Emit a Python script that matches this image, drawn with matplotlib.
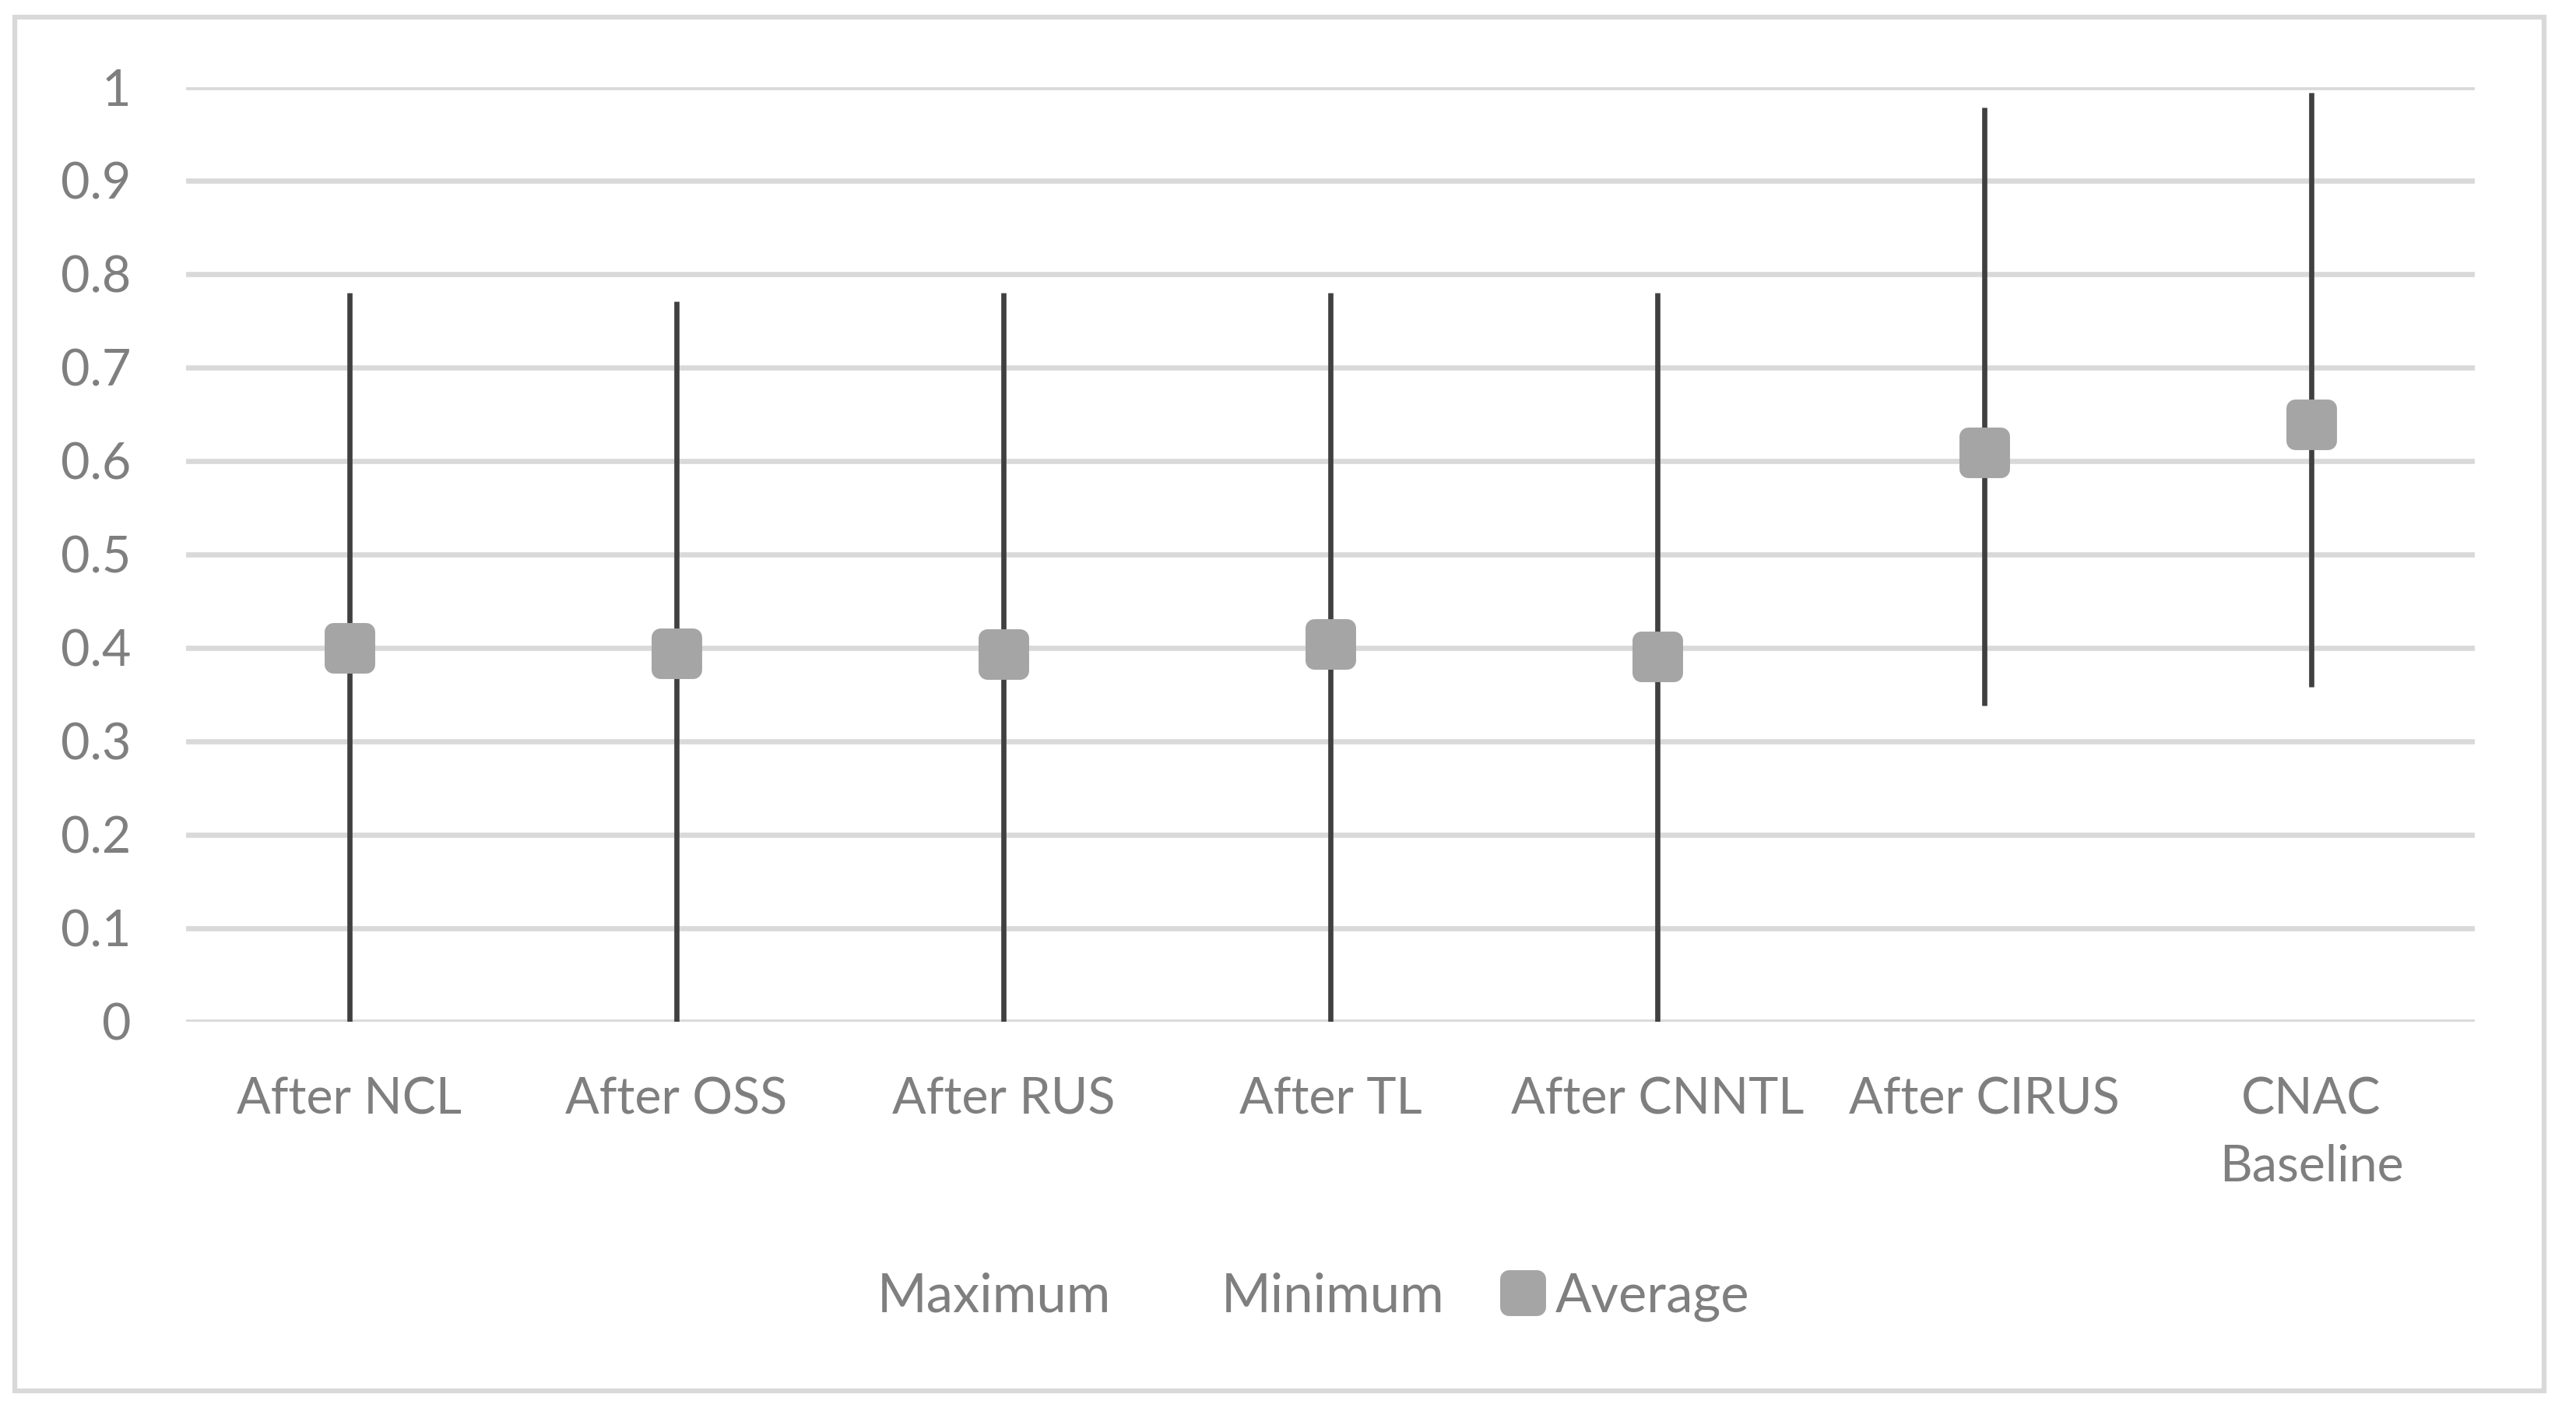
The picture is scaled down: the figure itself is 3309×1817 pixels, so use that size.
import matplotlib
matplotlib.use("Agg")
import matplotlib.pyplot as plt
from matplotlib.markers import MarkerStyle
from matplotlib.patches import Rectangle

# data
categories = ["After NCL", "After OSS", "After RUS", "After TL",
              "After CNNTL", "After CIRUS", "CNAC\nBaseline"]
maximum = [0.78, 0.771, 0.78, 0.78, 0.78, 0.978, 0.994]
minimum = [0.0, 0.0, 0.0, 0.0, 0.0, 0.338, 0.358]
average = [0.400, 0.394, 0.393, 0.404, 0.391, 0.609, 0.639]
yticks = [0, 0.1, 0.2, 0.3, 0.4, 0.5, 0.6, 0.7, 0.8, 0.9, 1]
ytick_labels = ["0", "0.1", "0.2", "0.3", "0.4", "0.5", "0.6", "0.7", "0.8", "0.9", "1"]

plt.rcParams['font.family'] = ['Lato', 'DejaVu Sans']
txt = '#7f7f7f'
grid = '#d9d9d9'
fs = 15.5

W, H, dpi = 3309, 1817, 300
fig = plt.figure(figsize=(W / dpi, H / dpi), dpi=dpi)
ax = fig.add_axes([239 / W, 505 / H, 2940 / W, 1200 / H])

x = list(range(len(categories)))

# high-low lines
ax.vlines(x, minimum, maximum, color='#404040', lw=1.6, zorder=3)

# max / min series have no marker, only in the legend
ax.plot(x, maximum, ls='none', marker='none', label='Maximum')
ax.plot(x, minimum, ls='none', marker='none', label='Minimum')
sq = MarkerStyle('s', joinstyle='round')
ax.plot(x, average, ls='none', marker=sq, ms=10.3, mew=5.5,
        mfc='#a5a5a5', mec='#a5a5a5', zorder=4, label='Average')

ax.set_xlim(-0.5, len(categories) - 0.5)
ax.set_ylim(0, 1)
ax.set_yticks(yticks)
ax.set_yticklabels(ytick_labels)
ax.set_xticks(x)
ax.set_xticklabels(categories, linespacing=1.55)
ax.tick_params(axis='y', length=0, pad=17, labelsize=fs, labelcolor=txt)
ax.tick_params(axis='x', length=0, pad=17, labelsize=fs, labelcolor=txt)
ax.grid(axis='y', color=grid, lw=1.6)
ax.set_axisbelow(True)
for s in ax.spines.values():
    s.set_visible(False)

leg = fig.legend(loc='center', bbox_to_anchor=(1652 / W, 1 - 1665 / H), ncol=3,
                 frameon=False, fontsize=16.5, labelcolor=txt, markerscale=0.83,
                 handlelength=0.8, handletextpad=0.22, columnspacing=1.05)

# chart area border
fig.patches.append(Rectangle((19 / W, 1 - 1786 / H), (3268 - 19) / W, (1786 - 22) / H,
                             transform=fig.transFigure, fill=False,
                             edgecolor=grid, lw=1.5))

fig.savefig("out.png", dpi=dpi, facecolor='white')
